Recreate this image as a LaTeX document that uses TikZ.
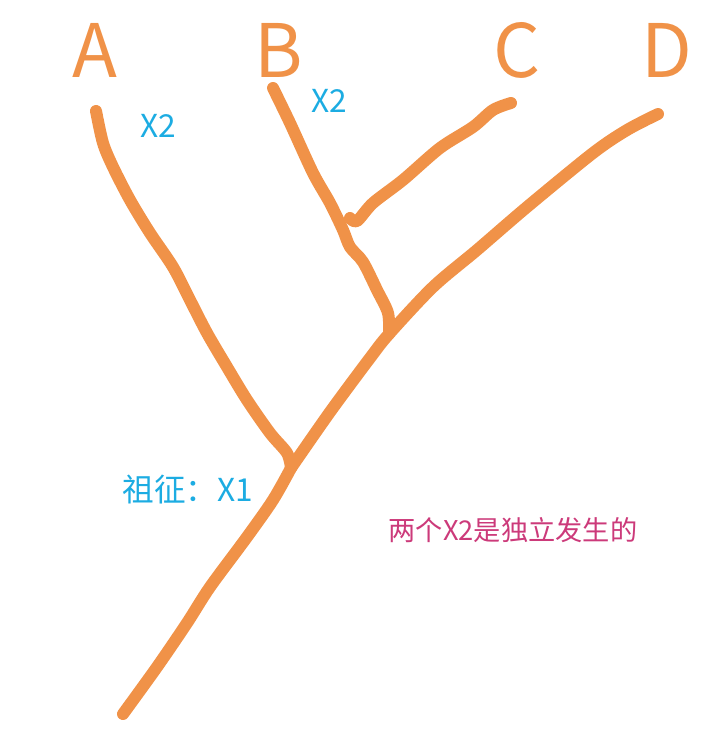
\documentclass[tikz,border=0pt]{standalone}
\usepackage{fontspec}
\newfontfamily\cjk{Noto Sans CJK SC}
\definecolor{branchorange}{RGB}{240,146,72}
\definecolor{notecyan}{RGB}{28,172,226}
\definecolor{notepink}{RGB}{204,58,122}
\tikzset{
  taxon/.style={text=branchorange, font=\cjk\fontsize{42}{42}\selectfont},
  mutation/.style={text=notecyan, font=\cjk\fontsize{18}{20}\selectfont},
  remark/.style={text=notepink, font=\cjk\fontsize{15.5}{20}\selectfont},
  branch/.style={draw=branchorange, line width=0.24cm, line cap=round, line join=round}
}
\begin{document}
\begin{tikzpicture}[x=0.02cm, y=-0.02cm]
      \useasboundingbox (0,0) rectangle (720,746);
      \draw
        (95,50) node[taxon] (A){A}
        (279,50) node[taxon] (B){B}
        (517,50) node[taxon] (C){C}
        (667,50) node[taxon] (D){D}
        (158,126) node[mutation] (xA){X2}
        (329,101) node[mutation] (xB){X2}
        (188,489) node[mutation] (anc){祖征：X1}
        (513,530) node[remark] (note){两个X2是独立发生的};
      \coordinate (tipA) at (96,111);
      \coordinate (tipB) at (273,88);
      \coordinate (tipC) at (511,103);
      \coordinate (tipD) at (658,114);
      \coordinate (root) at (123,714);
      \coordinate (x1) at (291,468);
      \coordinate (bcd) at (389,334);
      \coordinate (bc) at (350,218);
      \begin{scope}[branch]
        \draw plot[smooth, tension=0.5] coordinates {(root) (157,667) (187,623) (210,587) (247,537) (273,500) (x1)};
        \draw plot[smooth, tension=0.5] coordinates {(tipA) (103,143) (113,167) (130,200) (150,233) (173,267) (190,300) (207,333) (227,367) (247,400) (270,433) (287,453) (x1)};
        \draw plot[smooth, tension=0.5] coordinates {(x1) (330,412) (370,358) (bcd) (433,287) (477,250) (527,207) (593,153) (627,130) (tipD)};
        \draw plot[smooth, tension=0.5] coordinates {(tipB) (290,123) (313,173) (330,203) (343,230) (350,247) (363,262) (377,290) (388,313) (bcd)};
        \draw plot[smooth, tension=0.5] coordinates {(bc) (357,221) (373,203) (403,180) (440,148) (473,127) (493,110) (tipC)};
      \end{scope}
    \end{tikzpicture}
\end{document}
